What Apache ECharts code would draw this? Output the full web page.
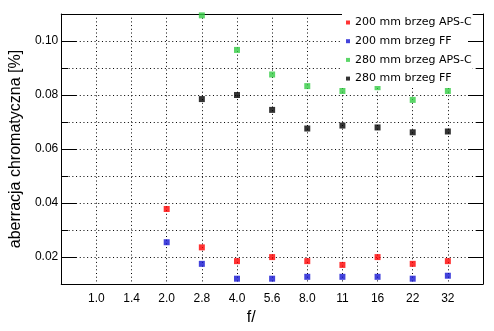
<!DOCTYPE html>
<html>
<head>
<meta charset="utf-8">
<script src="https://cdn.jsdelivr.net/npm/echarts@6/dist/echarts.min.js"></script>
<style>html,body{margin:0;padding:0;background:#fff}#c{width:494px;height:331px}</style>
</head>
<body>
<div id="c"></div>
<script>
const fStops = ['1.0','1.4','2.0','2.8','4.0','5.6','8.0','11','16','22','32'];
const aps200 = [null,null,0.0378,0.0236,0.0185,0.0200,0.0185,0.0171,0.0200,0.0175,0.0185];
const ff200  = [null,null,0.0255,0.0175,0.0120,0.0120,0.0127,0.0127,0.0127,0.0120,0.0131];
const aps280 = [null,null,null,0.1095,0.0967,0.0876,0.0833,0.0815,0.0829,0.0782,0.0815];
const ff280  = [null,null,null,0.0785,0.0800,0.0745,0.0676,0.0687,0.0680,0.0662,0.0665];
const seriesNames = ['200 mm brzeg APS-C','200 mm brzeg FF','280 mm brzeg APS-C','280 mm brzeg FF'];
const yMajorTicks = [0.02,0.04,0.06,0.08,0.10];
const yMinorTicks = [0.03,0.05,0.07,0.09];

const xCats = [''].concat(fStops, ['']);
const pad = a => [null].concat(a, [null]);
const colors = ['#ff0000','#1414d2','#33cc44','#000000'];
const dataSets = [aps200, ff200, aps280, ff280];
const dotted = {color:'#000', width:1, type:[1,2.7]};
const axisFont = {fontFamily:'Liberation Sans, Arial, sans-serif', fontSize:12, color:'#000'};

function tickSeries(ticks, len) {
  return {
    name:'ticks' + len, type:'custom', xAxisIndex:0, yAxisIndex:0, silent:true, clip:false, z:10,
    encode:{x:0, y:1},
    data:ticks.map(v => [0, v]),
    renderItem:(params, api) => {
      const v = api.value(1);
      const pL = api.coord([0, v]);
      const pR = api.coord([xCats.length - 1, v]);
      const y = Math.round(pL[1]) + 0.5;
      const xl = Math.round(pL[0]), xr = Math.round(pR[0]);
      return {type:'group', children:[
        {type:'line', shape:{x1:xl, y1:y, x2:xl + len, y2:y}, style:{stroke:'#000', lineWidth:1}},
        {type:'line', shape:{x1:xr - len, y1:y, x2:xr, y2:y}, style:{stroke:'#000', lineWidth:1}}
      ]};
    }
  };
}

const chart = echarts.init(document.getElementById('c'), null, {renderer:'canvas'});
chart.setOption({
  animation:false,
  backgroundColor:'#fff',
  grid:{left:55, top:14, width:428, height:276},
  legend:{
    orient:'vertical', left:342, top:14, padding:[3,1,2,4], itemGap:7.7,
    itemWidth:4, itemHeight:4, icon:'rect', selectedMode:false,
    backgroundColor:'#fff',
    textStyle:{fontFamily:'DejaVu Sans, Verdana, sans-serif', fontSize:11, lineHeight:11, color:'#000'},
    data:seriesNames
  },
  xAxis:[{
    type:'category', data:xCats, boundaryGap:false, position:'bottom',
    axisLine:{show:true, lineStyle:{color:'#000', width:1}},
    axisTick:{show:false},
    axisLabel:Object.assign({interval:0, margin:9}, axisFont),
    splitLine:{show:true, interval:0, lineStyle:dotted},
    name:'f/', nameLocation:'middle', nameGap:21,
    nameTextStyle:{fontFamily:'Liberation Sans, Arial, sans-serif', fontSize:16, color:'#000', padding:[0,42,0,0]}
  },{
    type:'category', data:xCats, boundaryGap:false, position:'top',
    axisLine:{show:true, lineStyle:{color:'#000', width:1}},
    axisTick:{show:false}, axisLabel:{show:false}, splitLine:{show:false}
  }],
  yAxis:[{
    type:'value', position:'left', min:0.01, max:0.11, interval:0.01,
    axisLine:{show:true, lineStyle:{color:'#000', width:1}},
    axisTick:{show:false},
    axisLabel:Object.assign({show:true, customValues:yMajorTicks, margin:3, formatter:v=>v.toFixed(2)}, axisFont),
    splitLine:{show:true, lineStyle:dotted},
    name:'aberracja chromatyczna [%]', nameLocation:'middle', nameGap:36,
    nameTextStyle:{fontFamily:'Liberation Sans, Arial, sans-serif', fontSize:16, color:'#000'}
  },{
    type:'value', position:'right', min:0.01, max:0.11, interval:0.01,
    axisLine:{show:true, lineStyle:{color:'#000', width:1}},
    axisTick:{show:false}, axisLabel:{show:false}, splitLine:{show:false}
  }],
  series: dataSets.map((d,i)=>({
    name:seriesNames[i], type:'scatter', yAxisIndex:0, xAxisIndex:0,
    symbol:'rect', symbolSize:6,
    itemStyle:{color:colors[i]},
    data:pad(d)
  })).concat([tickSeries(yMajorTicks, 15), tickSeries(yMinorTicks, 7)])
});
</script>
</body>
</html>
